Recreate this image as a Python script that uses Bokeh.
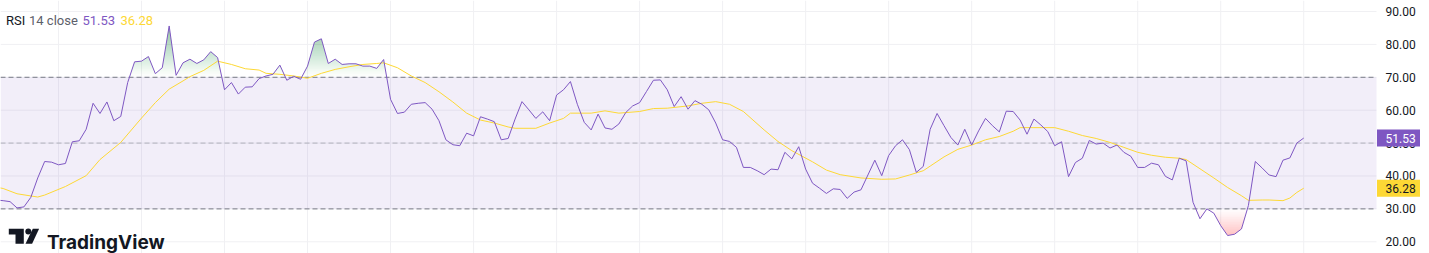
import numpy as np
from bokeh.plotting import figure
from bokeh.models import Range1d, Span
from bokeh.core.properties import value
from bokeh.embed import file_html
from bokeh.resources import INLINE

# ---------------- data ----------------
rsi = (
    [32.7, 32.5, 32.2, 30.3, 30.6, 33.5, 39.4, 44.4, 44.2, 43.4, 43.8, 50.4, 50.7, 54.2, 62.1, 59.0, 62.5,
     56.8, 58.1, 68.4, 74.7, 74.9, 76.3, 71.1, 72.9, 85.6, 70.6, 74.4, 75.5, 74.2, 75.3, 77.8, 76.0, 66.2]
    + [68.4, 64.9, 67.0, 67.1, 69.6, 70.4, 70.9, 73.7, 69.1, 70.3, 69.4, 73.4, 80.7, 81.7, 74.2, 75.5,
       73.9, 74.1, 74.1, 73.4, 73.4, 72.7, 75.4, 63.3, 59.0, 59.4, 61.8, 62.1, 62.3, 60.3, 56.8, 51.0]
    + [49.5, 49.2, 53.0, 52.2, 58.0, 57.3, 56.5, 51.0, 51.4, 57.3, 62.6, 60.1, 57.5, 59.5, 56.8, 64.6,
       66.2, 68.7, 61.8, 56.3, 54.0, 58.8, 54.6, 54.2, 55.8, 59.3, 61.3, 62.3, 65.7, 69.1, 69.2, 66.2]
    + [61.1, 64.1, 60.3, 62.9, 61.8, 60.1, 56.1, 51.0, 50.5, 48.7, 42.6, 42.6, 41.6, 40.4, 42.1, 41.9,
       47.2, 45.2, 48.9, 42.1, 37.8, 36.3, 34.7, 36.1, 35.9, 33.2, 35.1, 35.8, 40.3, 44.8, 40.1]
    + [46.2, 49.2, 51.0, 48.0, 41.1, 42.9, 54.2, 59.0, 55.3, 51.7, 49.4, 54.2, 49.4, 53.7, 57.5, 55.3,
       53.4, 59.7, 59.6, 57.0, 52.7, 57.3, 55.5, 53.5, 49.2, 50.4, 39.8, 44.1, 45.4, 50.8, 49.7, 50.0]
    + [48.5, 49.4, 47.2, 46.0, 42.6, 42.6, 43.9, 43.4, 39.9, 38.8, 45.4, 44.6, 32.0, 27.0, 30.0, 28.7,
       24.9, 21.9, 22.3, 23.9, 31.0, 44.4, 42.4, 40.3, 39.8, 44.8, 45.5, 50.0, 51.53]
)
bars = list(range(-1, -1 + len(rsi)))

ma_bars = [-1, 0, 2, 5, 6, 9, 12, 14, 17, 20, 22, 24, 26, 27, 29, 31, 33, 35, 37, 38,
           40, 42, 44, 46, 48, 50, 52, 54, 55, 57, 59, 61, 63, 65, 67, 69, 71, 73, 74, 77,
           79, 81, 82, 85, 87, 89, 92, 94, 96, 99, 101, 103, 105, 107, 110, 112, 114, 117, 119, 121,
           124, 127, 129, 131, 133, 134, 136, 138, 140, 142, 144, 146, 147, 149, 152, 154, 156, 158, 160, 162,
           164, 166, 168, 170, 171, 173, 175, 177, 179, 180, 182, 183, 185, 186, 187, 188]
ma_vals = [36.6, 36.2, 34.6, 33.6, 34.2, 36.8, 40.1, 45.0, 50.2, 57.6, 62.3, 66.4, 68.9, 70.2, 72.1, 74.9, 73.9, 72.6, 72.2, 71.2,
           70.9, 70.4, 69.7, 71.2, 72.4, 73.2, 73.9, 74.2, 74.4, 72.9, 70.4, 68.4, 65.6, 62.5, 59.1, 57.0, 56.1, 54.9, 54.5, 54.5,
           56.1, 57.5, 59.1, 59.1, 59.8, 59.1, 59.6, 60.5, 60.6, 61.3, 62.1, 62.6, 61.8, 59.6, 54.0, 50.5, 47.7, 44.3, 41.8, 40.4,
           39.4, 39.0, 39.1, 40.3, 41.6, 43.0, 45.8, 48.1, 49.4, 51.0, 52.0, 53.6, 54.7, 54.7, 54.7, 53.6, 52.3, 51.4, 50.2, 48.7,
           47.2, 46.3, 45.7, 45.4, 45.0, 42.2, 39.4, 36.5, 34.0, 32.6, 32.7, 32.7, 32.5, 33.3, 35.0, 36.28]

tick_vals = [20, 30, 40, 60, 70, 80, 90, 50]
tick_labels = ["20.00", "30.00", "40.00", "60.00", "70.00", "80.00", "90.00", "50.00"]
grid_bars = list(range(8, 189, 12))
upper_band, middle_band, lower_band = 70, 50, 30
last_rsi, last_ma = 51.53, 36.28
legend_parts = ["RSI", "14 close", "51.53", "36.28"]

# ---------------- style / layout ----------------
W, H = 1429, 253
FRAME_R = 1376          # right edge of the pane (price scale to the right)
BAR_PX = 6.918
X0 = -0.383
PURPLE = "#7E57C2"
YELLOW = "#FDD835"
GRID = "#F0F0F3"
BAND_LINE = "#787B86"
TEXT = "#131722"
FONT = value("Roboto")

p = figure(width=W, height=H, output_backend="svg", toolbar_location=None,
           x_range=Range1d(X0, X0 + W / BAR_PX), y_range=Range1d(16.44, 93.34),
           x_axis_location=None, y_axis_location=None, min_border=0,
           background_fill_color="white", border_fill_color="white")
p.grid.visible = False
p.outline_line_color = None
p.extra_x_ranges = {"px": Range1d(0, W)}
p.extra_y_ranges = {"py": Range1d(H, 0)}

# grid
for b in grid_bars:
    p.add_layout(Span(location=b, dimension="height", line_color=GRID, line_width=1, level="underlay"))
p.segment(x0=[0] * len(tick_vals), x1=[FRAME_R] * len(tick_vals), y0=tick_vals, y1=tick_vals,
          x_range_name="px", line_color=GRID, line_width=1)

# band
p.quad(left=[0], right=[FRAME_R], bottom=[lower_band], top=[upper_band], x_range_name="px",
       fill_color=PURPLE, fill_alpha=0.1, line_color=None)
p.segment(x0=[0, 0], x1=[FRAME_R, FRAME_R], y0=[upper_band, lower_band], y1=[upper_band, lower_band],
          x_range_name="px", line_color=BAND_LINE, line_width=1, line_dash="5 3")
p.segment(x0=[0], x1=[FRAME_R], y0=[middle_band], y1=[middle_band],
          x_range_name="px", line_color=BAND_LINE, line_alpha=0.5, line_width=1, line_dash="5 3")

# gradient fills (overbought / oversold) -- dense geometry of the drawn polyline
xd = np.linspace(bars[0], bars[-1], (len(bars) - 1) * 8 + 1)
yd = np.interp(xd, bars, rsi)


def dilate(mask):
    m = mask.copy()
    m[1:] |= mask[:-1]
    m[:-1] |= mask[1:]
    return m


step = 0.5
mask = dilate(yd > upper_band)
xs, ys = xd[mask], yd[mask]
prev_t = 1.0
lo = upper_band
while lo < ys.max():
    a_tot = min((lo + step / 2 - upper_band) / (100 - upper_band), 1.0)
    t = 1 - a_tot
    a = 1 - t / prev_t
    prev_t = t
    p.varea(x=xs, y1=np.full_like(xs, lo), y2=np.maximum(ys, lo), fill_color="#4CAF50", fill_alpha=a)
    lo += step

mask = dilate(yd < lower_band)
xs, ys = xd[mask], yd[mask]
prev_t = 1.0
hi = lower_band
while hi > ys.min():
    a_tot = min((lower_band - (hi - step / 2)) / lower_band, 1.0)
    t = 1 - a_tot
    a = 1 - t / prev_t
    prev_t = t
    p.varea(x=xs, y1=np.minimum(ys, hi), y2=np.full_like(xs, hi), fill_color="#F23645", fill_alpha=a)
    hi -= step

# lines
p.line(ma_bars, ma_vals, line_color=YELLOW, line_width=1)
p.line(bars, rsi, line_color=PURPLE, line_width=1)

# price scale labels
p.text(x=[1385] * len(tick_vals), y=tick_vals, text=tick_labels, x_range_name="px",
       text_font=FONT, text_font_size="12px", text_color=TEXT, text_baseline="middle", text_align="left")
p.rect(x=[1398, 1398], y=[last_rsi, last_ma], width=43, height=17, width_units="screen",
       height_units="screen", x_range_name="px", fill_color=[PURPLE, YELLOW], line_color=None)
p.text(x=[1385, 1385], y=[last_rsi, last_ma], text=[f"{last_rsi:.2f}", f"{last_ma:.2f}"], x_range_name="px",
       text_font=FONT, text_font_size="12px", text_color=["white", TEXT], text_baseline="middle")

# legend
p.text(x=[5.5, 28.5, 82, 120], y=[20, 20, 20, 20], text=legend_parts, x_range_name="px", y_range_name="py",
       text_font=FONT, text_font_size="13px", text_color=[TEXT, "#5D606B", PURPLE, YELLOW],
       text_baseline="alphabetic")

# TradingView logo
p.patches(xs=[[8.3, 23.3, 23.3, 15.0, 15.0, 8.3], [32.3, 38.6, 31.6, 25.0]],
          ys=[[228.3, 228.3, 243.3, 243.3, 234.0, 234.0], [228.3, 228.3, 243.3, 243.3]],
          x_range_name="px", y_range_name="py", fill_color=TEXT, line_color=None)
p.scatter(x=[27.8], y=[231.0], size=6, x_range_name="px", y_range_name="py",
          fill_color=TEXT, line_color=None)
p.text(x=[46.5], y=[242.3], text=["TradingView"], x_range_name="px", y_range_name="py",
       text_font=value("Inter"), text_font_style="bold", text_font_size="19px", text_color=TEXT,
       text_baseline="alphabetic")

open("out.html", "w").write(file_html(p, INLINE))
